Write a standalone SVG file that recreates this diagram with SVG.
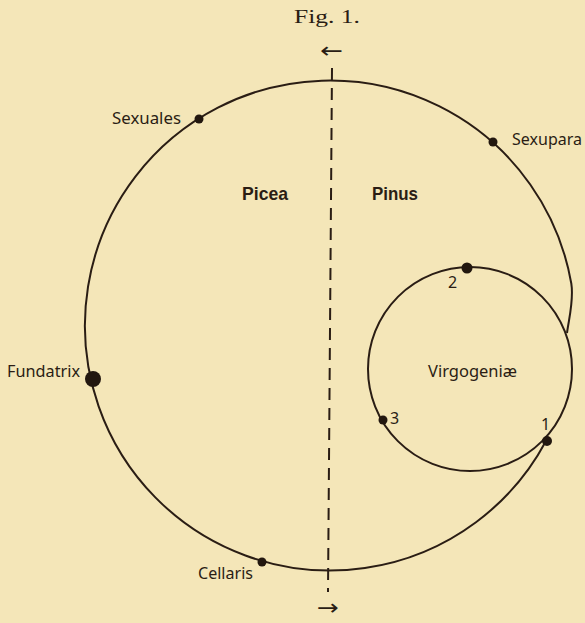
<svg xmlns="http://www.w3.org/2000/svg" width="585" height="623" viewBox="0 0 585 623">
<style>
.bg{fill:#f4e6b8}
.ln{fill:none;stroke:#2a1d14;stroke-width:2}
.dash{fill:none;stroke:#2a1d14;stroke-width:2;stroke-dasharray:12 8}
.dot{fill:#22170f}
.lb{font-family:"Noto Sans","DejaVu Sans",sans-serif;font-size:16px;fill:#2a1d14}
.bd{font-family:"Liberation Sans","Arial",sans-serif;font-weight:bold;font-size:19px;fill:#2a1d14}
.sf{font-family:"Liberation Serif","Times New Roman",serif;font-size:19px;fill:#2a1d14}
.ar{font-family:"DejaVu Sans",sans-serif;font-size:22px;fill:#2a1d14}
</style>
<rect class="bg" x="0" y="0" width="585" height="623"/>
<text class="sf" x="294" y="23" textLength="66" lengthAdjust="spacingAndGlyphs">Fig. 1.</text>
<text class="ar" x="320" y="58" textLength="23" lengthAdjust="spacingAndGlyphs">←</text>
<text class="ar" x="317" y="615" textLength="22" lengthAdjust="spacingAndGlyphs">→</text>
<g id="connectors">
<path class="ln" d="M546,441 A245,245 0 1 1 571.3,283.5 C574,300 569,318 567,333"/>
<circle class="ln" cx="470" cy="369" r="102"/>
<path class="dash" d="M332,68 L328,592"/>
</g>
<g id="sexuales"><circle class="dot" cx="199" cy="119" r="4.5"/><text class="lb" x="112" y="124" textLength="69" lengthAdjust="spacingAndGlyphs">Sexuales</text></g>
<g id="sexupara"><circle class="dot" cx="493" cy="142" r="4.5"/><text class="lb" x="512" y="145" textLength="70" lengthAdjust="spacingAndGlyphs">Sexupara</text></g>
<g id="fundatrix"><circle class="dot" cx="93" cy="379" r="8"/><text class="lb" x="7" y="377" textLength="73" lengthAdjust="spacingAndGlyphs">Fundatrix</text></g>
<g id="cellaris"><circle class="dot" cx="262" cy="562" r="4.5"/><text class="lb" x="198" y="579" textLength="55" lengthAdjust="spacingAndGlyphs">Cellaris</text></g>
<g id="picea"><text class="bd" x="242" y="200" textLength="46" lengthAdjust="spacingAndGlyphs">Picea</text></g>
<g id="pinus"><text class="bd" x="372" y="200" textLength="46" lengthAdjust="spacingAndGlyphs">Pinus</text></g>
<g id="virgogeniae"><text class="lb" x="428" y="377" textLength="89" lengthAdjust="spacingAndGlyphs">Virgogeniæ</text></g>
<g id="p2"><circle class="dot" cx="467" cy="268" r="5.5"/><text class="lb" x="448" y="288">2</text></g>
<g id="p3"><circle class="dot" cx="383" cy="420" r="4.5"/><text class="lb" x="390" y="424">3</text></g>
<g id="p1"><circle class="dot" cx="547" cy="441" r="5"/><text class="lb" x="541" y="430">1</text></g>
</svg>
